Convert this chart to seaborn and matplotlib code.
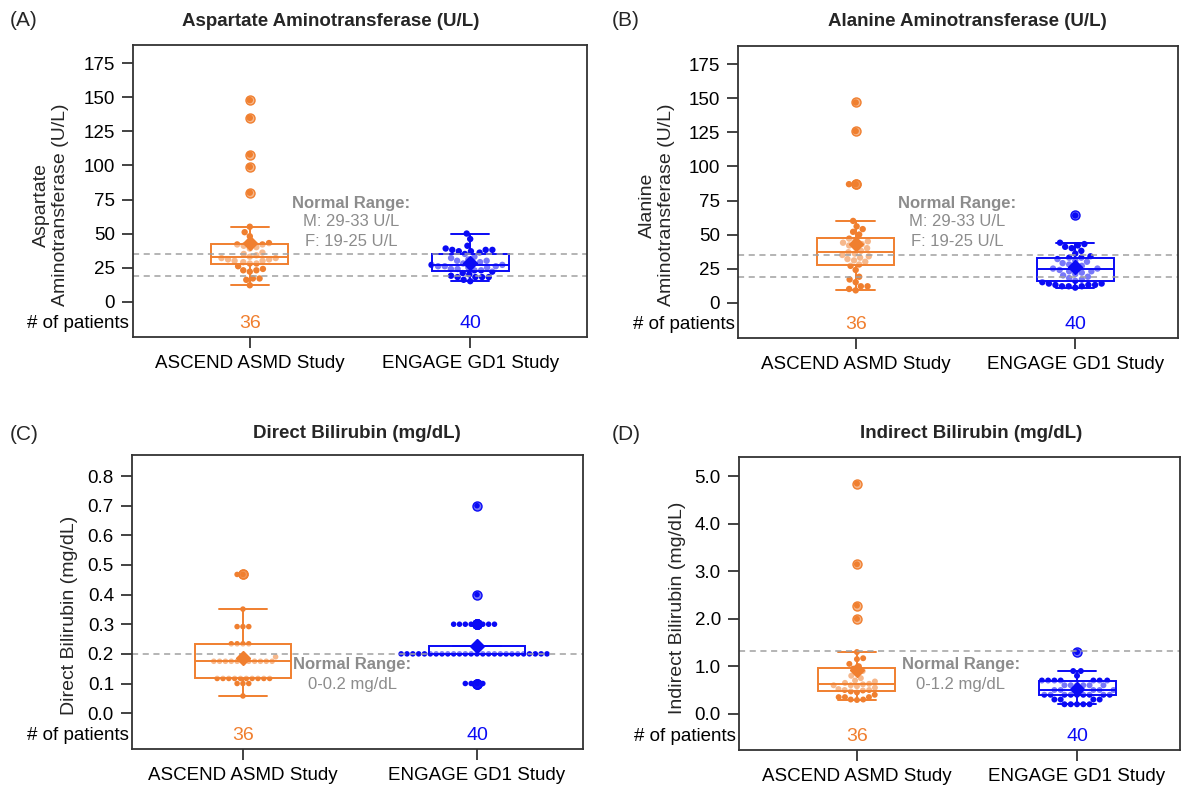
import numpy as np
import pandas as pd
import seaborn as sns
import matplotlib.pyplot as plt
from matplotlib.colors import to_rgba
from matplotlib.transforms import blended_transform_factory

# ---------------- data ----------------
groups = ["ASCEND ASMD Study", "ENGAGE GD1 Study"]
n_patients = [36, 40]
colors = ["#F07F2F", "#0A0AF5"]

ast_ascend = [12, 16, 17, 17, 22, 23, 23, 24, 26, 28, 28, 29, 30, 30, 31, 31, 32, 32,
              33, 34, 35, 36, 39, 40, 41, 42, 42, 43, 48, 51, 55, 80, 99, 108, 135, 148]
ast_engage = [15, 16, 18, 18, 18, 18, 19, 20, 21, 22, 23, 23, 24, 24, 25, 25, 26, 26, 26, 27,
              27, 28, 28, 29, 30, 30, 31, 32, 33, 35, 36, 37, 37, 38, 38, 38, 39, 41, 46, 50]

alt_ascend = [9, 10, 12, 12, 15, 17, 19, 24, 27, 28, 30, 31, 32, 33, 34, 35, 36, 37,
              38, 40, 41, 42, 43, 44, 45, 46, 47, 50, 52, 54, 56, 60, 87, 87, 126, 147]
alt_engage = [11, 12, 12, 12, 13, 13, 13, 14, 14, 15, 16, 17, 18, 19, 20, 21, 22, 23, 23, 24,
              25, 25, 26, 27, 28, 29, 30, 31, 32, 33, 33, 34, 36, 38, 40, 41, 42, 43, 44, 64]

dbil_ascend = [0.058, 0.10, 0.10, 0.10, 0.117, 0.117, 0.117, 0.117, 0.117, 0.117, 0.117,
               0.117, 0.117, 0.117, 0.175, 0.175, 0.175, 0.175, 0.175, 0.175, 0.175, 0.175,
               0.175, 0.175, 0.175, 0.19, 0.234, 0.234, 0.234, 0.234, 0.292, 0.292, 0.292,
               0.351, 0.468, 0.468]
dbil_engage = [0.1, 0.1, 0.1, 0.1,
               0.2, 0.2, 0.2, 0.2, 0.2, 0.2, 0.2, 0.2, 0.2, 0.2, 0.2, 0.2, 0.2,
               0.2, 0.2, 0.2, 0.2, 0.2, 0.2, 0.2, 0.2, 0.2, 0.2, 0.2, 0.2, 0.2,
               0.3, 0.3, 0.3, 0.3, 0.3, 0.3, 0.3, 0.3, 0.4, 0.7]

ibil_ascend = [0.29, 0.30, 0.30, 0.35, 0.35, 0.35, 0.40, 0.45, 0.47, 0.49, 0.50, 0.50,
               0.52, 0.55, 0.58, 0.60, 0.60, 0.62, 0.63, 0.65, 0.68, 0.70, 0.75, 0.80,
               0.85, 0.90, 0.95, 1.00, 1.05, 1.15, 1.17, 1.30, 2.00, 2.28, 3.15, 4.85]
ibil_engage = [0.2, 0.2, 0.2, 0.2, 0.2, 0.3, 0.3, 0.3, 0.3, 0.4, 0.4, 0.4, 0.4, 0.4, 0.4,
               0.4, 0.4, 0.4, 0.5, 0.5, 0.5, 0.5, 0.5, 0.6, 0.6, 0.6, 0.6, 0.6, 0.6,
               0.7, 0.7, 0.7, 0.7, 0.7, 0.7, 0.7, 0.8, 0.9, 0.9, 1.3]

ast_ticks = [0, 25, 50, 75, 100, 125, 150, 175]
ast_ticklabels = ["0", "25", "50", "75", "100", "125", "150", "175"]
dbil_ticks = [0.0, 0.1, 0.2, 0.3, 0.4, 0.5, 0.6, 0.7, 0.8]
dbil_ticklabels = ["0.0", "0.1", "0.2", "0.3", "0.4", "0.5", "0.6", "0.7", "0.8"]
ibil_ticks = [0, 1, 2, 3, 4, 5]
ibil_ticklabels = ["0.0", "1.0", "2.0", "3.0", "4.0", "5.0"]

# ---------------- style ----------------
W, H = 1187, 787
sns.set_theme(style="ticks")
plt.rcParams["font.family"] = ["Liberation Sans", "DejaVu Sans"]
GRAY = "#8C8C8C"

fig = plt.figure(figsize=(W / 100, H / 100), dpi=100)


def rect(l, t, r, b):
    return [l / W, 1 - b / H, (r - l) / W, (b - t) / H]


def fxy(x, y):
    return x / W, 1 - y / H


panels = [
    dict(rect=rect(133, 45, 587, 337), asc=ast_ascend, eng=ast_engage,
         ylim=(-26, 188.5), ticks=ast_ticks, labels=ast_ticklabels, xlim=(-0.53, 1.53),
         width=0.35, hlines=[35, 19], title="Aspartate Aminotransferase (U/L)",
         title_xy=(331, 21), letter="(A)", letter_xy=(10, 21), dot=4.6,
         ylabel="Aspartate\nAminotransferase (U/L)", ylabel_xy=(51, 205),
         normal=[("Normal Range:", True, 351, 203), ("M: 29-33 U/L", False, 351, 222),
                 ("F: 19-25 U/L", False, 351, 242)]),
    dict(rect=rect(738, 46, 1178, 338), asc=alt_ascend, eng=alt_engage,
         ylim=(-26, 188.5), ticks=ast_ticks, labels=ast_ticklabels, xlim=(-0.536, 1.468),
         width=0.35, hlines=[35, 19], title="Alanine Aminotransferase (U/L)",
         title_xy=(967, 21), letter="(B)", letter_xy=(612, 21), dot=4.6,
         ylabel="Alanine\nAminotransferase (U/L)", ylabel_xy=(657, 205),
         normal=[("Normal Range:", True, 957, 203), ("M: 29-33 U/L", False, 957, 222),
                 ("F: 19-25 U/L", False, 957, 242)]),
    dict(rect=rect(132, 455, 583, 749), asc=dbil_ascend, eng=dbil_engage,
         ylim=(-0.121, 0.871), ticks=dbil_ticks, labels=dbil_ticklabels, xlim=(-0.474, 1.453),
         width=0.41, hlines=[0.2], title="Direct Bilirubin (mg/dL)",
         title_xy=(357, 434), letter="(C)", letter_xy=(10, 434), dot=4.0,
         ylabel="Direct Bilirubin (mg/dL)", ylabel_xy=(70, 615),
         normal=[("Normal Range:", True, 352, 665), ("0-0.2 mg/dL", False, 352, 684)]),
    dict(rect=rect(739, 457, 1180, 750), asc=ibil_ascend, eng=ibil_engage,
         ylim=(-0.764, 5.41), ticks=ibil_ticks, labels=ibil_ticklabels, xlim=(-0.536, 1.468),
         width=0.35, hlines=[1.33], title="Indirect Bilirubin (mg/dL)",
         title_xy=(971, 434), letter="(D)", letter_xy=(612, 434), dot=4.3,
         ylabel="Indirect Bilirubin (mg/dL)", ylabel_xy=(677, 608),
         normal=[("Normal Range:", True, 961, 665), ("0-1.2 mg/dL", False, 961, 684)]),
]

palette = dict(zip(groups, colors))

for p in panels:
    ax = fig.add_axes(p["rect"])
    df = pd.DataFrame({
        "group": [groups[0]] * len(p["asc"]) + [groups[1]] * len(p["eng"]),
        "value": list(p["asc"]) + list(p["eng"]),
    })
    sns.swarmplot(data=df, x="group", y="value", hue="group", palette=palette,
                  order=groups, hue_order=groups, size=p["dot"], linewidth=0,
                  legend=False, ax=ax, zorder=1)
    for g, c in zip(groups, colors):
        sub = df[df["group"] == g]
        sns.boxplot(data=sub, x="group", y="value", order=groups, width=p["width"],
                    color=c, linecolor=c, linewidth=1.4, fill=True, whis=1.5,
                    showmeans=True,
                    boxprops=dict(facecolor=(1, 1, 1, 0.45)),
                    meanprops=dict(marker="D", markerfacecolor=c, markeredgecolor=c,
                                   markersize=7),
                    flierprops=dict(marker="o", markerfacecolor=to_rgba(c, 0.55),
                                    markeredgecolor=c, markersize=6.5, markeredgewidth=1.0),
                    ax=ax)
    for v in p["hlines"]:
        ax.axhline(v, color="#A0A0A0", lw=1.1, ls=(0, (4, 3)), zorder=2.05)

    ax.set_xlim(*p["xlim"])
    ax.set_ylim(*p["ylim"])
    ax.set_yticks(p["ticks"])
    ax.set_yticklabels(p["labels"])
    ax.set_xticks([0, 1])
    ax.set_xticklabels(groups)
    ax.set_xlabel("")
    ax.set_ylabel("")
    ax.tick_params(axis="both", length=8, width=1.2, labelsize=13.5, color="#222222",
                   labelcolor="black", pad=5)
    for s in ax.spines.values():
        s.set_visible(True)
        s.set_linewidth(1.3)
        s.set_color("#333333")

    trans = blended_transform_factory(ax.transData, ax.transAxes)
    for i, (n, c) in enumerate(zip(n_patients, colors)):
        ax.text(i, 0.047, str(n), color=c, ha="center", va="center", fontsize=14,
                transform=trans)
    ax.text(-0.008, 0.047, "# of patients", transform=ax.transAxes, ha="right",
            va="center", fontsize=13.5, color="black")

    for txt, bold, x, y in p["normal"]:
        fx, fy = fxy(x, y)
        fig.text(fx, fy, txt, ha="center", va="center", fontsize=12, color=GRAY,
                 fontweight="bold" if bold else "normal")

    tx, ty = fxy(*p["title_xy"])
    fig.text(tx, ty, p["title"], ha="center", va="center", fontsize=13.5,
             fontweight="bold")
    lx, ly = fxy(*p["letter_xy"])
    fig.text(lx, ly, p["letter"], ha="left", va="center", fontsize=15)
    yx, yy = fxy(*p["ylabel_xy"])
    fig.text(yx, yy, p["ylabel"], ha="center", va="center", rotation=90,
             fontsize=14, multialignment="center")

fig.savefig("out.png", dpi=100, facecolor="white")
